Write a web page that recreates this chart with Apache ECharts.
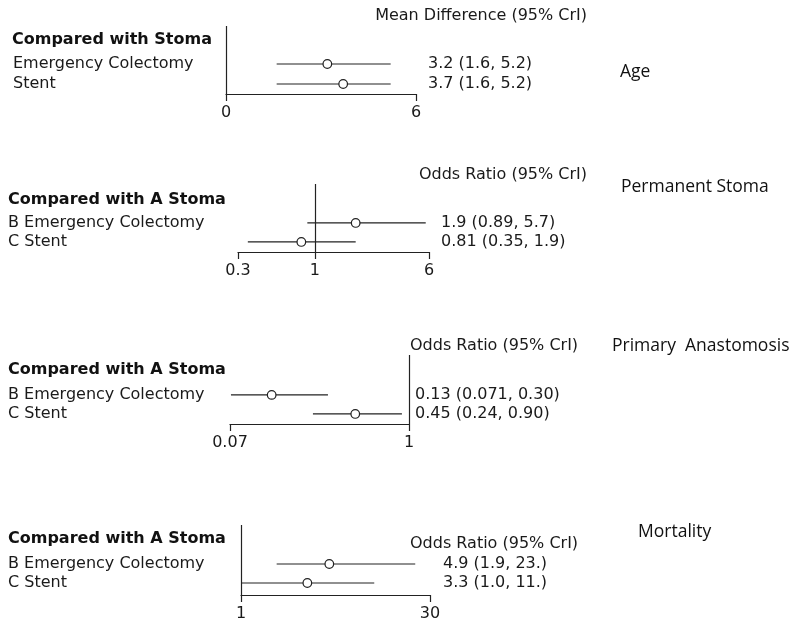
<!DOCTYPE html>
<html>
<head>
<meta charset="utf-8">
<script src="https://cdn.jsdelivr.net/npm/echarts@6/dist/echarts.min.js"></script>
<style>html,body{margin:0;padding:0;background:#fff;}#c{width:800px;height:627px;}</style>
</head>
<body>
<div id="c"></div>
<script>
// ---- Data ----
// Panel 1: Age (Mean Difference)
const ageRows = ['Emergency Colectomy', 'Stent'];
const ageEst = [3.2, 3.7];
const ageLo = [1.6, 1.6];
const ageHi = [5.2, 5.2];
const ageText = ['3.2 (1.6, 5.2)', '3.7 (1.6, 5.2)'];
const ageTicks = [0, 6];

// Panel 2: Permanent Stoma (Odds Ratio)
const psRows = ['B Emergency Colectomy', 'C Stent'];
const psEst = [1.9, 0.81];
const psLo = [0.89, 0.35];
const psHi = [5.7, 1.9];
const psText = ['1.9 (0.89, 5.7)', '0.81 (0.35, 1.9)'];
const psTicks = [0.3, 1, 6];

// Panel 3: Primary Anastomosis (Odds Ratio)
const paRows = ['B Emergency Colectomy', 'C Stent'];
const paEst = [0.13, 0.45];
const paLo = [0.071, 0.24];
const paHi = [0.30, 0.90];
const paText = ['0.13 (0.071, 0.30)', '0.45 (0.24, 0.90)'];
const paTicks = [0.07, 1];

// Panel 4: Mortality (Odds Ratio)
const moRows = ['B Emergency Colectomy', 'C Stent'];
const moEst = [4.9, 3.3];
const moLo = [1.9, 1.0];
const moHi = [23, 11];
const moText = ['4.9 (1.9, 23.)', '3.3 (1.0, 11.)'];
const moTicks = [1, 30];

const refValues = [0, 1, 1, 1];
const headers = ['Mean Difference (95% CrI)', 'Odds Ratio (95% CrI)', 'Odds Ratio (95% CrI)', 'Odds Ratio (95% CrI)'];
const groupTitles = ['Compared with Stoma', 'Compared with A Stoma', 'Compared with A Stoma', 'Compared with A Stoma'];
const outcomes = ['Age', 'Permanent Stoma', 'Primary  Anastomosis', 'Mortality'];

// ---- Layout / style ----
const FONT = 'DejaVu Sans';
const FS = 16;
const TXT = '#1a1a1a';
const LINE = '#222';

const panels = [
  {rows: ageRows, est: ageEst, lo: ageLo, hi: ageHi, text: ageText, ticks: ageTicks, type: 'value',
   grid: {left: 226, width: 190, top: 26, height: 68}, ymin: -0.9, ymax: 2.5, labelX: 13, textX: 428,
   header: {x: 587, y: 16}, group: {x: 12, y: 40}, outcome: {x: 620, y: 72}},
  {rows: psRows, est: psEst, lo: psLo, hi: psHi, text: psText, ticks: psTicks, type: 'log',
   grid: {left: 238, width: 191, top: 184, height: 68}, ymin: -1.05, ymax: 2.53, labelX: 8, textX: 441,
   header: {x: 587, y: 175}, group: {x: 8, y: 200}, outcome: {x: 621, y: 187}},
  {rows: paRows, est: paEst, lo: paLo, hi: paHi, text: paText, ticks: paTicks, type: 'log',
   grid: {left: 230, width: 179, top: 355, height: 69}, ymin: -1.1, ymax: 2.53, labelX: 8, textX: 415,
   header: {x: 410, y: 346, left: true}, group: {x: 8, y: 370}, outcome: {x: 612, y: 346}},
  {rows: moRows, est: moEst, lo: moLo, hi: moHi, text: moText, ticks: moTicks, type: 'log',
   grid: {left: 241, width: 189, top: 525, height: 70}, ymin: -1.05, ymax: 2.63, labelX: 8, textX: 443,
   header: {x: 410, y: 544, left: true}, group: {x: 8, y: 539}, outcome: {x: 638, y: 532}}
];

function txtStyle(text, opts) {
  return Object.assign({text: text, fill: TXT, fontFamily: FONT, fontSize: FS, fontWeight: 'normal',
                        align: 'left', verticalAlign: 'middle'}, opts || {});
}

function makeRender(p) {
  return function (params, api) {
    const y = api.value(3);
    const a = api.coord([api.value(0), y]);
    const b = api.coord([api.value(1), y]);
    const c = api.coord([api.value(2), y]);
    const i = params.dataIndex;
    return {
      type: 'group',
      children: [
        {type: 'line', shape: {x1: a[0], y1: a[1], x2: b[0], y2: b[1]}, style: {stroke: LINE, lineWidth: 1.2}},
        {type: 'circle', shape: {cx: c[0], cy: c[1], r: 4.3}, style: {fill: '#fff', stroke: LINE, lineWidth: 1.2}},
        {type: 'text', x: p.labelX, y: c[1], style: txtStyle(p.rows[i])},
        {type: 'text', x: p.textX, y: c[1], style: txtStyle(p.text[i])}
      ]
    };
  };
}

const grids = [], xAxes = [], yAxes = [], series = [], graphics = [];
panels.forEach((p, k) => {
  grids.push(Object.assign({containLabel: false}, p.grid));
  const xa = {
    type: p.type, gridIndex: k, position: 'bottom',
    min: p.ticks[0], max: p.ticks[p.ticks.length - 1],
    axisLine: {show: true, onZero: false, lineStyle: {color: LINE, width: 1.2}},
    axisTick: {show: true, inside: false, length: 7, lineStyle: {color: LINE, width: 1.2}, customValues: p.ticks},
    axisLabel: {show: true, color: TXT, fontFamily: FONT, fontSize: FS, margin: 11, customValues: p.ticks,
                formatter: v => String(+Number(v).toPrecision(3))},
    splitLine: {show: false}, minorTick: {show: false}
  };
  if (p.type === 'log') xa.logBase = 10;
  xAxes.push(xa);
  yAxes.push({type: 'value', gridIndex: k, inverse: true, min: p.ymin, max: p.ymax, show: false});
  series.push({
    type: 'custom', xAxisIndex: k, yAxisIndex: k, clip: false, silent: true, animation: false,
    renderItem: makeRender(p),
    data: p.est.map((e, i) => [p.lo[i], p.hi[i], e, i + 1]),
    markLine: {
      silent: true, symbol: 'none', animation: false,
      label: {show: false},
      lineStyle: {color: LINE, type: 'solid', width: 1.2},
      data: [{xAxis: refValues[k]}]
    },
    z: 3
  });
  graphics.push({type: 'text', x: p.header.x, y: p.header.y,
    style: txtStyle(headers[k], {align: p.header.left ? 'left' : 'right'})});
  graphics.push({type: 'text', x: p.group.x, y: p.group.y,
    style: txtStyle(groupTitles[k], {fontWeight: 'bold', fill: '#111'})});
  graphics.push({type: 'text', x: p.outcome.x, y: p.outcome.y,
    style: txtStyle(outcomes[k], {fontFamily: 'Open Sans', fontSize: 17.5, fill: '#111'})});
});

const chart = echarts.init(document.getElementById('c'), null, {renderer: 'canvas'});
chart.setOption({
  backgroundColor: '#fff',
  animation: false,
  grid: grids, xAxis: xAxes, yAxis: yAxes, series: series, graphic: graphics
});
</script>
</body>
</html>
